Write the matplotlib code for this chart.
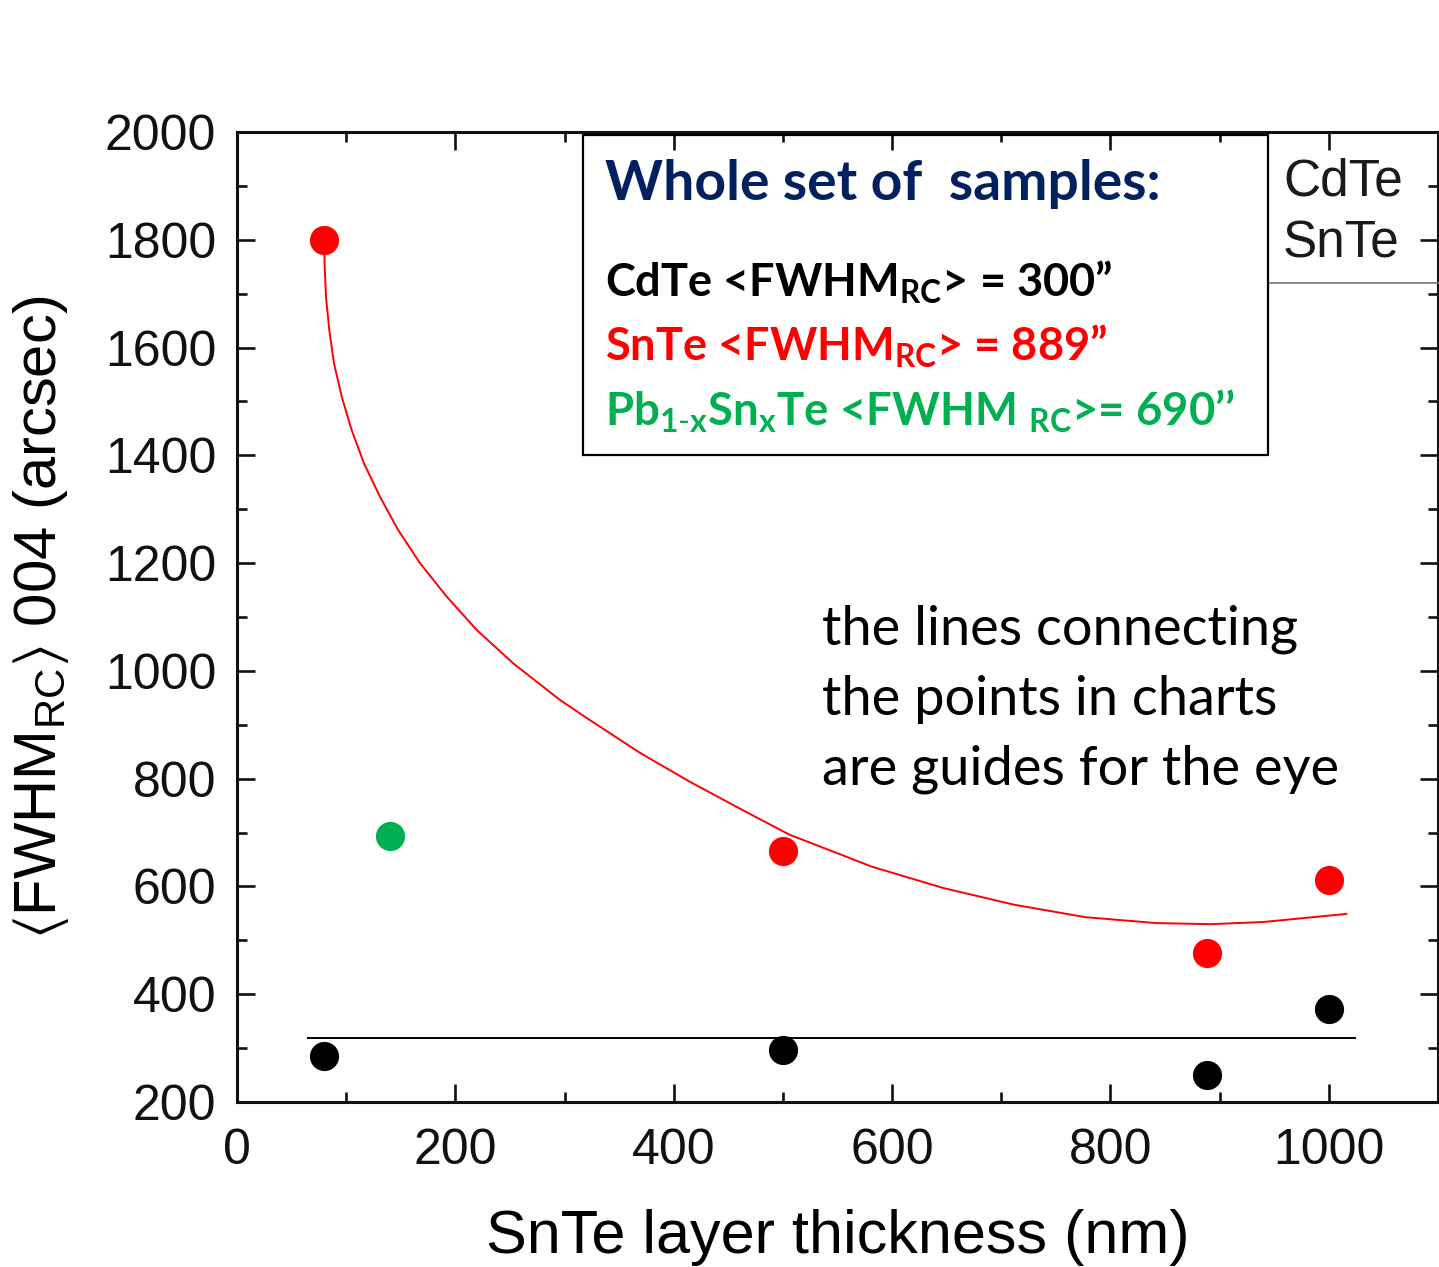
import matplotlib
matplotlib.use('Agg')
import matplotlib.pyplot as plt
from matplotlib.patches import Rectangle
from matplotlib.lines import Line2D
from matplotlib.ticker import MultipleLocator

# ---- data ----
cdte_x = [80, 500, 888, 1000]
cdte_y = [285, 297, 250, 372]
snte_x = [80, 500, 888, 1000]
snte_y = [1800, 666, 476, 612]
pbsnte_x = [140]
pbsnte_y = [694]
cdte_mean_x = [65, 1024]
cdte_mean_y = [318, 318]
# red guide-for-the-eye curve
curve_x = [80, 80.2, 81.5, 84.5, 88.8, 95.9, 105, 116.3, 131, 147.7, 167.6, 192,
           219.5, 253, 295.8, 323, 369, 415, 461, 506, 552, 581, 647, 712, 777,
           842, 892, 940, 1016]
curve_y = [1800, 1756, 1694, 1633, 1571, 1509, 1447, 1385, 1323, 1261, 1200, 1138,
           1076, 1014, 946, 909, 848, 794, 744, 696, 660, 637, 597, 566, 543,
           532, 530, 534, 549]
xticks = [0, 200, 400, 600, 800, 1000]
yticks = [200, 400, 600, 800, 1000, 1200, 1400, 1600, 1800, 2000]

plt.rcParams['font.family'] = ['Liberation Sans', 'DejaVu Sans']
plt.rcParams['mathtext.fontset'] = 'custom'
plt.rcParams['mathtext.sf'] = 'Liberation Sans'
plt.rcParams['mathtext.rm'] = 'Lato'
plt.rcParams['mathtext.bf'] = 'Lato:bold'
plt.rcParams['mathtext.fallback'] = 'stixsans'

W, H = 1439, 1267
fig = plt.figure(figsize=(W / 100, H / 100), dpi=100)
fig.patch.set_facecolor('white')


def fx(px):
    return px / W


def fy(py):
    return 1 - py / H


ax = fig.add_axes([fx(237), fy(1102), fx(1438) - fx(237), fy(132) - fy(1102)])

ax.plot(curve_x, curve_y, color='#ff0000', lw=1.4, zorder=2,
        solid_joinstyle='round')
ax.plot(cdte_mean_x, cdte_mean_y, color='black', lw=1.4, zorder=2)
ax.plot(cdte_x, cdte_y, 'o', color='black', ms=21, mew=0, zorder=3)
ax.plot(snte_x, snte_y, 'o', color='#ff0000', ms=21, mew=0, zorder=3)
ax.plot(pbsnte_x, pbsnte_y, 'o', color='#00b050', ms=21, mew=0, zorder=3)

ax.set_xlim(0, 1100)
ax.set_ylim(200, 2000)
ax.set_xticks(xticks)
ax.set_yticks(yticks)
ax.xaxis.set_minor_locator(MultipleLocator(100))
ax.yaxis.set_minor_locator(MultipleLocator(100))
ax.tick_params(which='both', direction='in', top=True, right=True, width=1.9,
               colors='#111111')
ax.tick_params(which='major', length=13)
ax.tick_params(which='minor', length=7)
ax.tick_params(axis='both', which='major', labelsize=36)
ax.tick_params(axis='y', pad=15)
ax.tick_params(axis='x', pad=19)
for s in ax.spines.values():
    s.set_linewidth(2.2)
    s.set_color('#111111')

ax.set_xlabel('SnTe layer thickness (nm)', fontsize=44, labelpad=25)
ax.set_ylabel(r'$\langle$FWHM$_\mathsf{RC}$$\rangle$ 004 (arcsec)', fontsize=43,
              labelpad=24)

# text box
fig.add_artist(Rectangle((fx(583), fy(455)), fx(1268) - fx(583), fy(135) - fy(455),
                         transform=fig.transFigure, fill=False, lw=1.6,
                         ec='black', zorder=5))
box_font = ['Lato', 'DejaVu Sans']
fig.text(fx(605), fy(200), 'Whole set of  samples:', color='#002060',
         fontsize=39.8, fontweight='bold', family=box_font, va='baseline')
fig.text(fx(605), fy(297), 'CdTe <FWHM$_\\mathbf{RC}$> = 300\u201d', color='black',
         fontsize=32.5, fontweight='bold', family=box_font, va='baseline')
fig.text(fx(605), fy(361), 'SnTe <FWHM$_\\mathbf{RC}$> = 889\u201d', color='#ff0000',
         fontsize=32.5, fontweight='bold', family=box_font, va='baseline')
fig.text(fx(605), fy(425),
         'Pb$_\\mathbf{1\\text{-}x}$Sn$_\\mathbf{x}$Te <FWHM $_\\mathbf{RC}$>= 690\u2019\u2019',
         color='#00b050', fontsize=32.8, fontweight='bold', family=box_font,
         va='baseline')

# partial legend at top right
fig.add_artist(Line2D([fx(1268), fx(1268)], [fy(132), fy(283)],
                      transform=fig.transFigure, color='black', lw=1.4))
fig.add_artist(Line2D([fx(1268), fx(1438)], [fy(283), fy(283)],
                      transform=fig.transFigure, color='#777777', lw=1.2))
fig.text(fx(1283), fy(195), 'CdTe', fontsize=37, color='#1a1a1a', va='baseline')
fig.text(fx(1283), fy(257), 'SnTe', fontsize=37, color='#1a1a1a', va='baseline')

# note
note_lines = ['the lines connecting', 'the points in charts', 'are guides for the eye']
for i, line in enumerate(note_lines):
    fig.text(fx(822), fy(645 + 70 * i), line, fontsize=39, family=box_font,
             color='black', va='baseline')

fig.savefig('out.png', dpi=100, facecolor='white')
